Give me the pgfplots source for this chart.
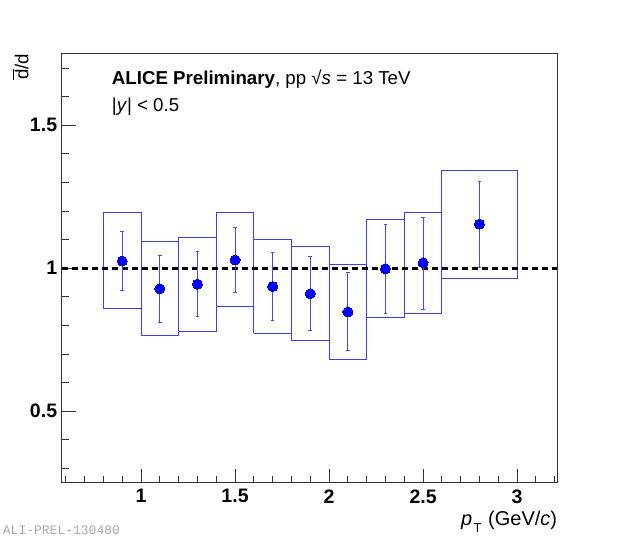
\documentclass[border=0pt]{standalone}
\usepackage{fontspec}
\setmainfont{Liberation Sans}
\setmonofont{Liberation Mono}
\usepackage{pgfplots}
\pgfplotsset{compat=1.18}
\usepackage{pgfplotstable}

\pgfplotstableread{
x   y
0.9 1.025
1.1 0.928
1.3 0.944
1.5 1.029
1.7 0.936
1.9 0.911
2.1 0.847
2.3 0.998
2.5 1.019
2.8 1.154
}\stat

\definecolor{boxblue}{RGB}{60,60,255}
\definecolor{barblue}{RGB}{70,70,255}
\definecolor{wmgray}{RGB}{170,170,170}
\newcommand{\lbl}{\fontsize{18.7bp}{22bp}\selectfont}
\newcommand{\tlbl}{\fontsize{19.5bp}{22bp}\selectfont}

\begin{document}
\begin{tikzpicture}
\useasboundingbox (-61.7bp,-54.3bp) rectangle (558.3bp,482.7bp);
\begin{axis}[
  at={(0,0)}, anchor=south west,
  scale only axis, width=495.6bp, height=429bp,
  xmin=0.578, xmax=3.214, ymin=0.25, ymax=1.75,
  xtick={1,1.5,2,2.5,3}, ytick={0.5,1,1.5},
  minor xtick={0.6,0.7,0.8,0.9,1.1,1.2,1.3,1.4,1.6,1.7,1.8,1.9,2.1,2.2,2.3,2.4,2.6,2.7,2.8,2.9,3.1,3.2},
  minor ytick={0.3,0.4,0.6,0.7,0.8,0.9,1.1,1.2,1.3,1.4,1.6,1.7},
  tick pos=left, tick align=inside,
  major tick length=14bp, minor tick length=7bp,
  every tick/.style={black!80, line width=0.9bp},
  axis line style={black!80, line width=0.9bp},
  /pgf/number format/assume math mode=true,
  xticklabel style={font=\tlbl\bfseries, inner sep=0pt, anchor=north, yshift=-6.6bp},
  yticklabel style={font=\tlbl\bfseries, inner sep=0pt, anchor=east, xshift=-4.4bp},
  clip=false,
]
% systematic boxes
\addplot[boxblue, line width=1bp, unbounded coords=jump] coordinates {
 (0.8,0.858) (1.0,0.858) (1.0,1.193) (0.8,1.193) (0.8,0.858) (nan,nan)
 (1.0,0.765) (1.2,0.765) (1.2,1.092) (1.0,1.092) (1.0,0.765) (nan,nan)
 (1.2,0.779) (1.4,0.779) (1.4,1.107) (1.2,1.107) (1.2,0.779) (nan,nan)
 (1.4,0.866) (1.6,0.866) (1.6,1.193) (1.4,1.193) (1.4,0.866) (nan,nan)
 (1.6,0.773) (1.8,0.773) (1.8,1.099) (1.6,1.099) (1.6,0.773) (nan,nan)
 (1.8,0.748) (2.0,0.748) (2.0,1.075) (1.8,1.075) (1.8,0.748) (nan,nan)
 (2.0,0.682) (2.2,0.682) (2.2,1.013) (2.0,1.013) (2.0,0.682) (nan,nan)
 (2.2,0.826) (2.4,0.826) (2.4,1.169) (2.2,1.169) (2.2,0.826) (nan,nan)
 (2.4,0.840) (2.6,0.840) (2.6,1.196) (2.4,1.196) (2.4,0.840) (nan,nan)
 (2.6,0.965) (3.0,0.965) (3.0,1.342) (2.6,1.342) (2.6,0.965)
};
% unity line
\addplot[black, line width=3bp, dash pattern=on 6.5bp off 3.5bp] coordinates {(0.578,1) (3.214,1)};
% statistical error bars (low, high) with small caps
\addplot[barblue, line width=1bp, unbounded coords=jump, mark=-, mark size=1.8bp,
  mark options={solid, barblue, line width=1bp}] coordinates {
 (0.9,0.921) (0.9,1.129) (nan,nan)
 (1.1,0.811) (1.1,1.044) (nan,nan)
 (1.3,0.831) (1.3,1.058) (nan,nan)
 (1.5,0.914) (1.5,1.144) (nan,nan)
 (1.7,0.817) (1.7,1.056) (nan,nan)
 (1.9,0.782) (1.9,1.040) (nan,nan)
 (2.1,0.711) (2.1,0.985) (nan,nan)
 (2.3,0.843) (2.3,1.154) (nan,nan)
 (2.5,0.857) (2.5,1.179) (nan,nan)
 (2.8,1.002) (2.8,1.303)
};
% points
\addplot[blue, only marks, mark=*, mark size=5bp,
  mark options={fill=blue, draw=blue, line width=0pt}]
  table[x=x, y=y] {\stat};

\node[anchor=base west, font=\lbl, inner sep=0pt] at (rel axis cs:0.1009,0.9287)
  {\textbf{ALICE Preliminary}, pp √\textit{s} = 13 TeV};
\node[anchor=base west, font=\lbl, inner sep=0pt] at (rel axis cs:0.1009,0.8648)
  {|\textit{y}| < 0.5};
\node[anchor=base east, font=\fontsize{20bp}{22bp}\selectfont, inner sep=0pt] at (rel axis cs:1,-0.1009)
  {\textit{p}\hspace{1.5bp}\raisebox{-7bp}{\fontsize{13bp}{13bp}\selectfont T}\hspace{1bp} (GeV/\textit{c})};
\node[rotate=90, anchor=base east, font=\lbl, inner sep=0pt] at (rel axis cs:-0.0674,1)
  {$\overline{\mbox{d}}$/d};
\node[anchor=base west, font=\fontsize{13bp}{15bp}\selectfont\ttfamily, text=wmgray, inner sep=0pt]
  at (rel axis cs:-0.119,-0.1203) {ALI-PREL-130480};
\end{axis}
\end{tikzpicture}
\end{document}
